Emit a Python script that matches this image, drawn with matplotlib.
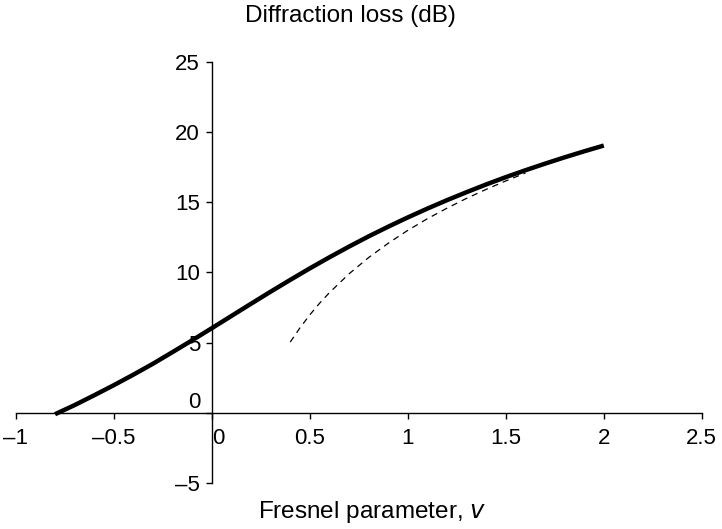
import matplotlib
matplotlib.use("Agg")
from matplotlib import pyplot as plt

plt.rcParams['font.family'] = ['Liberation Sans', 'DejaVu Sans']

# knife-edge diffraction loss
v_exact = [-0.8, -0.7, -0.6, -0.5, -0.4, -0.3, -0.2, -0.1, 0.0, 0.1, 0.2, 0.3,
           0.4, 0.5, 0.6, 0.7, 0.8, 0.9, 1.0, 1.1, 1.2, 1.3, 1.4, 1.5, 1.6,
           1.7, 1.8, 1.9, 2.0]
loss_exact = [-0.1, 0.55, 1.25, 1.97, 2.72, 3.5, 4.33, 5.17, 6.03, 6.9, 7.77,
              8.63, 9.47, 10.29, 11.08, 11.84, 12.57, 13.26, 13.92, 14.55,
              15.15, 15.72, 16.27, 16.79, 17.28, 17.75, 18.2, 18.63, 19.04]

# approximation (dashed)
v_approx = [0.4, 0.45, 0.5, 0.55, 0.6, 0.7, 0.8, 0.9, 1.0, 1.1, 1.2, 1.3,
            1.4, 1.5, 1.6]
loss_approx = [5.04, 6.06, 6.98, 7.81, 8.56, 9.9, 11.06, 12.08, 13.0, 13.83,
               14.58, 15.28, 15.92, 16.52, 17.08]

x_ticks = [-1, -0.5, 0, 0.5, 1, 1.5, 2, 2.5]
x_tick_labels = ["\u20131", "\u20130.5", "0", "0.5", "1", "1.5", "2", "2.5"]
y_ticks = [-5, 0, 5, 10, 15, 20, 25]
y_tick_labels = ["\u20135", "0", "5", "10", "15", "20", "25"]

fig = plt.figure(figsize=(7.22, 5.29), dpi=100)
ax = fig.add_axes([0.022, 0.087, 0.95, 0.796])

ax.plot(v_exact, loss_exact, "k-", lw=3.2, solid_capstyle="butt")
ax.plot(v_approx, loss_approx, "k", lw=0.9, dashes=(5, 4))

ax.set_xlim(-1, 2.5)
ax.set_ylim(-5, 25)

ax.spines["left"].set_position(("data", 0))
ax.spines["bottom"].set_position(("data", 0))
ax.spines["right"].set_visible(False)
ax.spines["top"].set_visible(False)
for s in ("left", "bottom"):
    ax.spines[s].set_linewidth(1.0)

ax.set_xticks(x_ticks)
ax.set_xticklabels(x_tick_labels)
ax.set_yticks(y_ticks)
ax.set_yticklabels(y_tick_labels)
ax.tick_params(axis="both", direction="out", length=4.5, width=1.0,
               labelsize=16, color="black")
ax.tick_params(axis="x", pad=6.5)
ax.tick_params(axis="y", pad=4)

for lab in ax.get_xticklabels():
    if lab.get_text() == "0":
        lab.set_ha("left")
for lab in ax.get_yticklabels():
    if lab.get_text() == "0":
        lab.set_va("bottom")

fig.text(350 / 722, 1 - 16 / 529, "Diffraction loss (dB)", ha="center",
         va="center", fontsize=17.5)
fig.text(372 / 722, 1 - 512 / 529, "Fresnel parameter, $\\mathit{v}$",
         ha="center", va="center", fontsize=17.5)

fig.savefig("out.png", dpi=100)
